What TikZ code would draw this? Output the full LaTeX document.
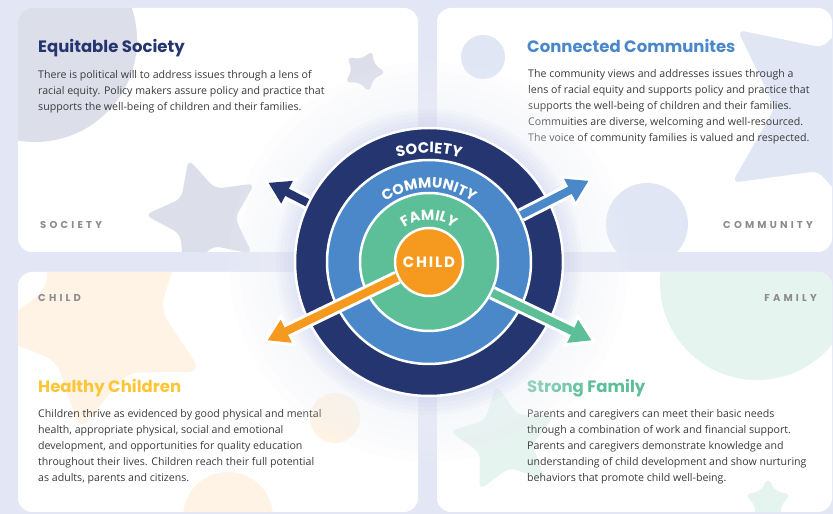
\documentclass[tikz,border=0pt]{standalone}
\usepackage{fontspec}
\setmainfont{Open Sans}
\newfontfamily\titlefont{Poppins}
\newfontfamily\tagfont{Poppins}[LetterSpace=32]
\newfontfamily\ringfont{Poppins}[LetterSpace=12]
\newfontfamily\ringwidefont{Poppins}[LetterSpace=22]
\usetikzlibrary{arrows.meta,shapes.geometric,decorations.text}

\definecolor{navy}{HTML}{24356F}
\definecolor{skyblue}{HTML}{4A88C9}
\definecolor{mint}{HTML}{5CBF98}
\definecolor{amber}{HTML}{F6991F}
\definecolor{gold}{HTML}{FCC636}
\definecolor{tagtext}{HTML}{8C8C8C}
\definecolor{bodytext}{HTML}{3A3A3A}
\definecolor{backdrop}{HTML}{E3E7F5}
\definecolor{mist}{HTML}{DCDFEA}
\definecolor{frost}{HTML}{E0E6F4}
\definecolor{peach}{HTML}{FEF3E4}
\definecolor{seafoam}{HTML}{E5F4EE}
\definecolor{haze}{HTML}{F0F2FB}
\definecolor{lilac}{HTML}{C6CCEE}

\begin{document}
\begin{tikzpicture}[x=1pt,y=1pt,
    card/.style={fill=white, rounded corners=14pt},
    blob/.style={star, star points=5, star point ratio=2, inner sep=0pt, rounded corners=7pt},
    ring/.style={circle, draw=white, line width=2.5pt, inner sep=0pt},
    title/.style={anchor=base west, inner sep=0pt, font=\titlefont\bfseries\fontsize{16.5}{18}\selectfont},
    para/.style={anchor=base west, inner sep=0pt, align=left, text=bodytext, font=\fontsize{10.6}{16}\selectfont},
    tag/.style={inner sep=0pt, text=tagtext, font=\tagfont\bfseries\fontsize{10}{10}\selectfont},
    halo/.style={line width=14pt, white, -{Triangle[width=34pt,length=30pt]}},
    shaft/.style={line width=8pt, draw=#1, -{Triangle[width=24pt,length=21pt]}, shorten >=6pt},
    arcword/.style n args={3}{decorate, decoration={text along path, text align=center,
      text={|#1\bfseries\fontsize{#2}{#2}\selectfont\color{white}|#3}}}]
  \useasboundingbox (0,0) rectangle (833,514);
  \fill[backdrop] (0,0) rectangle (833,514);

  %cartes
  \fill[card] (18,262) rectangle (418,506);
  \fill[card] (437,262) rectangle (832,506);
  \fill[card] (18,2) rectangle (418,242);
  \fill[card] (437,2) rectangle (832,242);

  %décor
  \begin{scope}
    \clip[rounded corners=14pt] (18,262) rectangle (418,506);
    \fill[mist] (35,474) circle[radius=102];
    \node[blob, fill=mist, minimum size=46pt, rotate=-22] (petite) at (364,443) {};
    \node[blob, fill=mist, minimum size=120pt, rotate=16] (grande) at (205,297) {};
  \end{scope}
  \begin{scope}
    \clip[rounded corners=14pt] (437,262) rectangle (832,506);
    \fill[frost] (483,457) circle[radius=22];
    \fill[frost] (647,290) circle[radius=41];
    \node[blob, fill=frost, minimum size=260pt, rotate=52] (bleue) at (840,404) {};
  \end{scope}
  \begin{scope}
    \clip[rounded corners=14pt] (18,2) rectangle (418,242);
    \node[blob, fill=peach, minimum size=230pt, star point ratio=1.9, rounded corners=14pt, rotate=26] (orange) at (100,196) {};
    \fill[peach] (335,96) circle[radius=25];
    \fill[peach] (228,-3) circle[radius=45];
  \end{scope}
  \begin{scope}
    \clip[rounded corners=14pt] (437,2) rectangle (832,242);
    \fill[seafoam] (757,231) circle[radius=97];
    \node[blob, fill=seafoam, minimum size=112pt, rotate=9] (verte) at (505,74) {};
    \node[blob, fill=seafoam, minimum size=50pt, rotate=0] (mini) at (768,12) {};
  \end{scope}

  %textes des cartes (ancre = ligne du bas)
  \node[title, text=navy] (t1) at (38,461) {Equitable Society};
  \node[para] (p1) at (38,403) {There is political will to address issues through a lens of\\
    racial equity. Policy makers assure policy and practice that\\
    supports the well-being of children and their families.};
  \node[title, text=skyblue] (t2) at (527,461) {Connected Communites};
  \node[para] (p2) at (528,372) {The community views and addresses issues through a\\
    lens of racial equity and supports policy and practice that\\
    supports the well-being of children and their families.\\
    Commuities are diverse, welcoming and well-resourced.\\
    The voice of community families is valued and respected.};
  \node[title, text=gold] (t3) at (38,121) {Healthy Children};
  \node[para] (p3) at (38,32) {Children thrive as evidenced by good physical and mental\\
    health, appropriate physical, social and emotional\\
    development, and opportunities for quality education\\
    throughout their lives. Children reach their full potential\\
    as adults, parents and citizens.};
  \node[title, text=mint] (t4) at (527,121) {Strong Family};
  \node[para] (p4) at (527,32) {Parents and caregivers can meet their basic needs\\
    through a combination of work and financial support.\\
    Parents and caregivers demonstrate knowledge and\\
    understanding of child development and show nurturing\\
    behaviors that promote child well-being.};

  \node[tag, anchor=base west] (g1) at (40,285) {SOCIETY};
  \node[tag, anchor=base east] (g2) at (813,285) {COMMUNITY};
  \node[tag, anchor=base west] (g3) at (38,212) {CHILD};
  \node[tag, anchor=base east] (g4) at (817,212) {FAMILY};

  %halo
  \coordinate (O) at (429,252);
  \foreach \r in {200,190,...,140} \fill[haze, opacity=0.1] (O) circle[radius=\r];
  \foreach \r in {137,141,...,153} \fill[lilac, opacity=0.09] (O) circle[radius=\r];

  %cercles
  \node[ring, fill=navy, minimum size=268pt] (society) at (O) {};
  \node[ring, fill=skyblue, minimum size=204pt] (community) at (O) {};
  \node[ring, fill=mint, minimum size=138pt] (family) at (O) {};
  \node[ring, fill=amber, minimum size=68pt, text=white,
    font=\ringfont\bfseries\fontsize{15}{15}\selectfont] (child) at (O) {CHILD};

  %flèches
  \coordinate (socTip) at (263,334);
  \coordinate (comTip) at (594,336);
  \coordinate (famTip) at (597,171);
  \coordinate (chiTip) at (262,171);
  \draw[halo] (society.154) -- (socTip); \draw[shaft=navy] (society.154) -- (socTip);
  \draw[halo] (community.27) -- (comTip); \draw[shaft=skyblue] (community.27) -- (comTip);
  \draw[halo] (family.334) -- (famTip); \draw[shaft=mint] (family.334) -- (famTip);
  \draw[halo] (child.206) -- (chiTip); \draw[shaft=amber] (child.206) -- (chiTip);

  %mots en arc
  \path[arcword={\ringfont}{15}{SOCIETY}] (320,252) arc[start angle=180, end angle=0, radius=109];
  \path[arcword={\ringwidefont}{14.5}{COMMUNITY}] (355,252) arc[start angle=180, end angle=0, radius=74];
  \path[arcword={\ringwidefont}{14.5}{FAMILY}] (387,252) arc[start angle=180, end angle=0, radius=42];
\end{tikzpicture}
\end{document}
